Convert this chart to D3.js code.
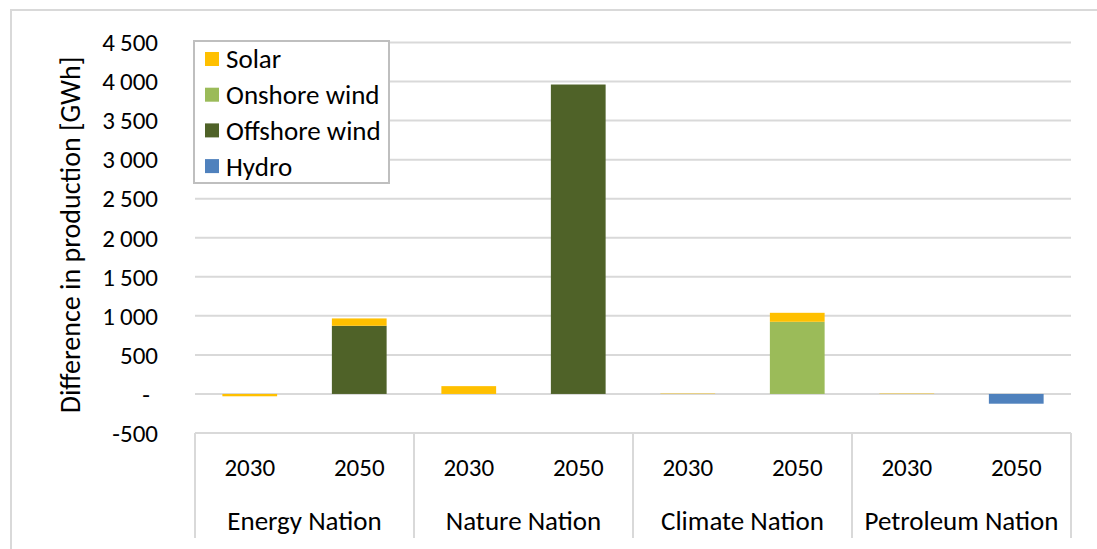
<!DOCTYPE html>
<html>
<head>
<meta charset="utf-8">
<script src="https://cdn.jsdelivr.net/npm/d3@7"></script>
<style>
  body { margin: 0; background: #fff; }
  svg { display: block; font-family: Carlito, Lato, sans-serif; }
</style>
</head>
<body>
<svg id="chart"></svg>
<script>
// data
var groups = ["Energy Nation", "Nature Nation", "Climate Nation", "Petroleum Nation"];
var years = ["2030", "2050"];
var seriesNames = ["Hydro", "Offshore wind", "Onshore wind", "Solar"];
// one value per bar, order: group x year
var hydro    = [0, 0, 0, 0, 0, 0, 0, -125];
var offshore = [0, 873, 0, 3962, 0, 0, 0, 0];
var onshore  = [0, 0, 0, 0, 0, 924, 0, 0];
var solar    = [-30, 94, 100, 0, 5, 115, 5, 0];
var yTicks = [-500, 0, 500, 1000, 1500, 2000, 2500, 3000, 3500, 4000, 4500];

var colors = {
    "Solar": "#FFC000",
    "Onshore wind": "#9BBB59",
    "Offshore wind": "#4F6228",
    "Hydro": "#4F81BD"
};

var W = 1097, H = 549;
var svg = d3.select('#chart').attr('width', W).attr('height', H);

// outer frame
svg.append('rect')
    .attr('x', 11).attr('y', 10)
    .attr('width', W + 10).attr('height', H + 10)
    .attr('fill', 'none')
    .attr('stroke', '#d9d9d9')
    .attr('stroke-width', 2);

var rows = [];
groups.forEach(function(g, gi) {
    years.forEach(function(yr, yi) {
        var i = gi * 2 + yi;
        rows.push({
            id: g + "|" + yr, group: g, year: yr,
            "Hydro": hydro[i], "Offshore wind": offshore[i],
            "Onshore wind": onshore[i], "Solar": solar[i]
        });
    });
});

var left = 195, right = 1071;
var x = d3.scaleBand().domain(rows.map(function(d) { return d.id; })).range([left, right]);
var xg = d3.scaleBand().domain(groups).range([left, right]);
var y = d3.scaleLinear().domain([-500, 4500]).range([433, 42.5]);

// gridlines
svg.append('g').selectAll('line')
    .data(yTicks)
    .enter().append('line')
    .attr('x1', left).attr('x2', right)
    .attr('y1', function(d) { return y(d); })
    .attr('y2', function(d) { return y(d); })
    .attr('stroke', '#d9d9d9')
    .attr('stroke-width', 2);

// y axis labels
var fmt = function(d) {
    if (d === 0) return "-";
    return d3.format(",")(d).replace(",", "\u2009").replace("\u2212", "-");
};
svg.append('g').selectAll('text')
    .data(yTicks)
    .enter().append('text')
    .attr('x', function(d) { return d === 0 ? 150 : 158; })
    .attr('y', function(d) { return y(d); })
    .attr('dy', '0.35em')
    .attr('text-anchor', 'end')
    .attr('font-size', 25)
    .attr('fill', '#000')
    .text(fmt);

svg.append('text')
    .attr('transform', 'translate(70,' + 235 + ') rotate(-90)')
    .attr('text-anchor', 'middle')
    .attr('dy', '0.35em')
    .attr('font-size', 28)
    .text('Difference in production [GWh]');

// stacked bars
var stack = d3.stack().keys(seriesNames).offset(d3.stackOffsetDiverging);
var layers = stack(rows);
var bw = x.bandwidth() * 0.5;

svg.append('g').selectAll('g')
    .data(layers)
    .enter().append('g')
    .attr('fill', function(d) { return colors[d.key]; })
    .selectAll('rect')
    .data(function(d) { return d; })
    .enter().append('rect')
    .attr('x', function(d) { return x(d.data.id) + (x.bandwidth() - bw) / 2; })
    .attr('width', bw)
    .attr('y', function(d) { return y(Math.max(d[0], d[1])); })
    .attr('height', function(d) { return Math.abs(y(d[0]) - y(d[1])); });

// category axis
var axisTop = y(-500), axisBottom = 538;
svg.append('line')
    .attr('x1', left).attr('x2', right)
    .attr('y1', axisTop).attr('y2', axisTop)
    .attr('stroke', '#d9d9d9').attr('stroke-width', 2);
svg.append('g').selectAll('line')
    .data(groups.concat(['end']))
    .enter().append('line')
    .attr('x1', function(d) { return d === 'end' ? right : xg(d); })
    .attr('x2', function(d) { return d === 'end' ? right : xg(d); })
    .attr('y1', axisTop).attr('y2', axisBottom)
    .attr('stroke', '#d9d9d9').attr('stroke-width', 2);

svg.append('g').selectAll('text')
    .data(rows)
    .enter().append('text')
    .attr('x', function(d) { return x(d.id) + x.bandwidth() / 2; })
    .attr('y', 467)
    .attr('dy', '0.35em')
    .attr('text-anchor', 'middle')
    .attr('font-size', 25)
    .text(function(d) { return d.year; });

svg.append('g').selectAll('text')
    .data(groups)
    .enter().append('text')
    .attr('x', function(d) { return xg(d) + xg.bandwidth() / 2; })
    .attr('y', 521)
    .attr('dy', '0.35em')
    .attr('text-anchor', 'middle')
    .attr('font-size', 27)
    .text(function(d) { return d; });

// legend
var legend = svg.append('g');
legend.append('rect')
    .attr('x', 194).attr('y', 41)
    .attr('width', 195).attr('height', 142)
    .attr('fill', '#fff')
    .attr('stroke', '#bfbfbf')
    .attr('stroke-width', 2);
var legendItems = seriesNames.slice().reverse();
var li = legend.selectAll('g.item')
    .data(legendItems)
    .enter().append('g')
    .attr('class', 'item')
    .attr('transform', function(d, i) { return 'translate(205,' + (59 + i * 35.7) + ')'; });
li.append('rect')
    .attr('x', 0).attr('y', -7)
    .attr('width', 14).attr('height', 14)
    .attr('fill', function(d) { return colors[d]; });
li.append('text')
    .attr('x', 21)
    .attr('dy', '0.35em')
    .attr('font-size', 27)
    .text(function(d) { return d; });
</script>
</body>
</html>
